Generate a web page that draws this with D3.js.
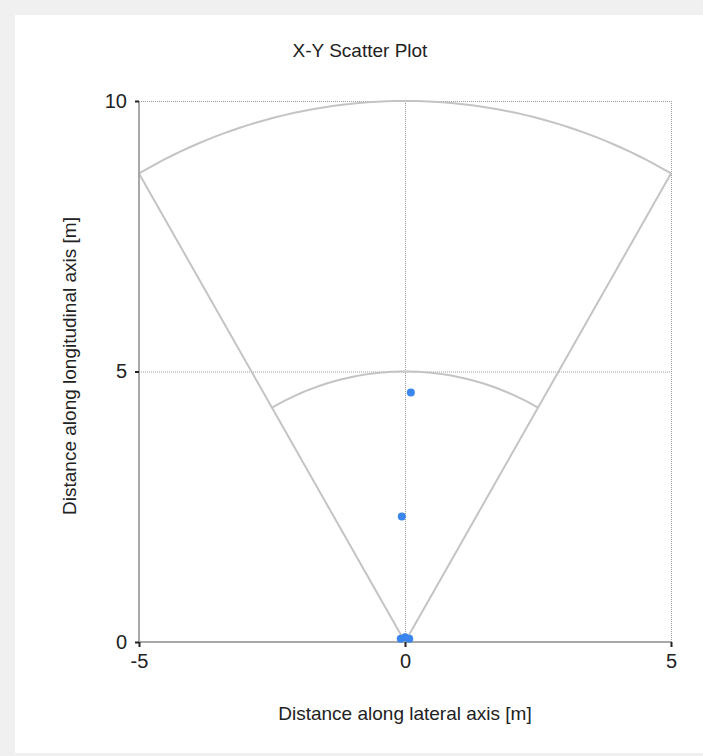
<!DOCTYPE html>
<html lang="en">
<head>
    <meta charset="UTF-8">
    <title>X-Y Scatter Plot</title>
    <style>
        html, body {
            margin: 0;
            padding: 0;
            width: 703px;
            height: 756px;
            overflow: hidden;
            background: #f0f0f0;
        }
        svg text {
            font-family: "Liberation Sans", Arial, sans-serif;
            fill: #222;
        }
    </style>
</head>
<body>
    <svg id="chart" width="703" height="756"></svg>

    <script src="https://cdn.jsdelivr.net/npm/d3@7"></script>
    <script>
        // data
        const xValues = [-0.08, 0.0, 0.08, 0.11, -0.06];
        const yValues = [0.06, 0.09, 0.06, 4.61, 2.32];
        const xTicks = [-5, 0, 5];
        const yTicks = [0, 5, 10];
        // field of view: half opening angle (deg) and range rings (m)
        const fovHalfAngle = [30];
        const rangeRings = [5, 10];

        const svg = d3.select('#chart');

        // white panel inside grey frame
        svg.append('rect')
            .attr('x', 15).attr('y', 15)
            .attr('width', 703 - 15).attr('height', 753 - 15)
            .attr('fill', '#fff');

        const x = d3.scaleLinear().domain([-5, 5]).range([139, 671]);
        const y = d3.scaleLinear().domain([0, 10]).range([642, 101]);

        // title
        svg.append('text')
            .attr('x', 360).attr('y', 57)
            .attr('text-anchor', 'middle')
            .style('font-size', '19px')
            .text('X-Y Scatter Plot');

        // dotted grid
        const grid = svg.append('g')
            .attr('stroke', '#9a9a9a')
            .attr('stroke-width', 1)
            .attr('stroke-dasharray', '1,1');
        grid.selectAll('.gx')
            .data(xTicks.filter(d => d !== -5))
            .join('line')
            .attr('x1', d => x(d) + 0.5).attr('x2', d => x(d) + 0.5)
            .attr('y1', y(0)).attr('y2', y(10));
        grid.selectAll('.gy')
            .data(yTicks.filter(d => d !== 0))
            .join('line')
            .attr('class', 'gy')
            .attr('y1', d => y(d) + 0.5).attr('y2', d => y(d) + 0.5)
            .attr('x1', x(-5)).attr('x2', x(5));

        // sector outline
        const rad = a => a * Math.PI / 180;
        const half = fovHalfAngle[0];
        const line = d3.line().x(d => x(d[0])).y(d => y(d[1]));
        const arcPts = r => d3.range(-half, half + 0.01, 1)
            .map(a => [r * Math.sin(rad(a)), r * Math.cos(rad(a))]);
        const rMax = d3.max(rangeRings);

        const sector = svg.append('g')
            .attr('fill', 'none')
            .attr('stroke', '#c4c4c4')
            .attr('stroke-width', 2);
        rangeRings.forEach(r => {
            sector.append('path').attr('d', line(arcPts(r)));
        });
        [-half, half].forEach(a => {
            sector.append('path').attr('d', line([[0, 0],
                [rMax * Math.sin(rad(a)), rMax * Math.cos(rad(a))]]));
        });

        // axes
        const fmt = d => String(d);
        const xAxis = svg.append('g')
            .attr('transform', `translate(0,${y(0)})`)
            .call(d3.axisBottom(x).tickValues(xTicks).tickFormat(fmt).tickSize(6).tickPadding(6));
        const yAxis = svg.append('g')
            .attr('transform', `translate(${x(-5)},0)`)
            .call(d3.axisLeft(y).tickValues(yTicks).tickFormat(fmt).tickSize(6).tickPadding(6));

        [xAxis, yAxis].forEach(g => {
            g.select('.domain').attr('stroke', '#a8a8a8').attr('stroke-width', 2);
            g.selectAll('.tick line').attr('stroke', '#222').attr('stroke-width', 2);
            g.selectAll('.tick text')
                .style('font-size', '20px')
                .style('font-family', '"Liberation Sans", Arial, sans-serif')
                .attr('fill', '#222');
        });
        yAxis.select('.domain').attr('d', `M0,${y(0)}V${y(10)}`);
        xAxis.select('.domain').attr('d', `M${x(-5)},0H${x(5)}`);
        yAxis.selectAll('.tick line').attr('x2', -4);
        xAxis.selectAll('.tick line').attr('y2', 5);

        // axis titles
        svg.append('text')
            .attr('x', 405).attr('y', 720)
            .attr('text-anchor', 'middle')
            .style('font-size', '19px')
            .text('Distance along lateral axis [m]');
        svg.append('text')
            .attr('transform', 'translate(76,366) rotate(-90)')
            .attr('text-anchor', 'middle')
            .style('font-size', '19px')
            .text('Distance along longitudinal axis [m]');

        // points
        svg.append('g')
            .selectAll('circle')
            .data(xValues.map((v, i) => [v, yValues[i]]))
            .join('circle')
            .attr('cx', d => x(d[0]))
            .attr('cy', d => y(d[1]))
            .attr('r', 4)
            .attr('fill', '#3a86ee');
    </script>
</body>
</html>
